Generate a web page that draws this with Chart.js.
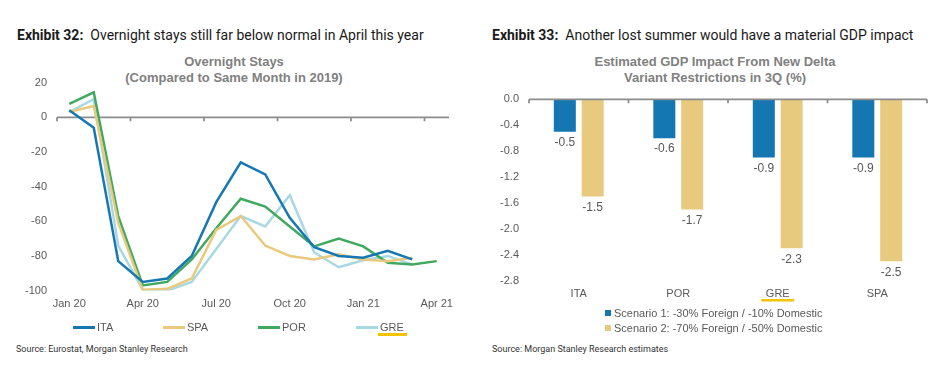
<!DOCTYPE html>
<html><head><meta charset="utf-8">
<script src="https://cdn.jsdelivr.net/npm/chart.js@4.4.0/dist/chart.umd.min.js"></script>
<style>
body{margin:0;width:950px;height:372px;background:#fff;position:relative;overflow:hidden;font-family:'Liberation Sans',Arial,sans-serif;}
.abs{position:absolute;white-space:nowrap;}
.head{font-family:Roboto,sans-serif;font-size:14px;color:#1a1a1a;top:26px;line-height:18px;}
.head b{font-weight:700;}
.ctitle{font-weight:bold;font-size:13px;color:#808080;text-align:center;line-height:16px;top:54px;width:300px;}
.src{font-family:Roboto,sans-serif;font-size:9px;color:#333;top:343px;line-height:12px;}
.leg{font-size:11px;color:#595959;line-height:12px;}
.cv{position:absolute;}
</style></head><body>
<div class="abs head" style="left:17px;"><b>Exhibit 32:</b>&nbsp; Overnight stays still far below normal in April this year</div>
<div class="abs head" style="left:492px;"><b>Exhibit 33:</b>&nbsp; Another lost summer would have a material GDP impact</div>
<div class="abs ctitle" style="left:84px;">Overnight Stays<br>(Compared to Same Month in 2019)</div>
<div class="abs ctitle" style="left:565px;">Estimated GDP Impact From New Delta<br>Variant Restrictions in 3Q (%)</div>
<canvas id="c1" class="cv" width="470" height="251" style="left:0px;top:66px;"></canvas>
<canvas id="c2" class="cv" width="475" height="250" style="left:475px;top:70px;"></canvas>
<div id="leg1"></div>
<div id="leg2"></div>
<div class="abs src" style="left:16px;">Source: Eurostat, Morgan Stanley Research</div>
<div class="abs src" style="left:492px;">Source: Morgan Stanley Research estimates</div>
<script>
// ---- data ----
const months = ['Jan 20','Feb 20','Mar 20','Apr 20','May 20','Jun 20','Jul 20','Aug 20','Sep 20','Oct 20','Nov 20','Dec 20','Jan 21','Feb 21','Mar 21','Apr 21'];
const monthTickLabels = ['Jan 20','Apr 20','Jul 20','Oct 20','Jan 21','Apr 21'];
const seriesNames = ['ITA','SPA','POR','GRE'];
const ita = [4, -6, -83, -95, -93, -80, -49, -26, -33, -58, -75, -80, -81, -77, -82, null];
const spa = [3, 6.5, -61, -99.5, -99, -93, -65, -57, -74, -80, -82, -79, -82, -83, -81, null];
const por = [7.7, 14.4, -57, -97, -95, -82, -64, -47, -51.5, -63, -74.5, -70, -74.5, -84, -85, -83];
const gre = [3, 10.5, -74, -99.5, -100, -95, -76, -57, -63, -45, -78, -86.5, -82.5, -80, -85, null];
const stayTicks = [20, 0, -20, -40, -60, -80, -100];

const countries = ['ITA','POR','GRE','SPA'];
const scenarioNames = ['Scenario 1: -30% Foreign / -10% Domestic','Scenario 2: -70% Foreign / -50% Domestic'];
const scenario1 = [-0.5, -0.6, -0.9, -0.9];
const scenario2 = [-1.5, -1.7, -2.3, -2.5];
const gdpTicks = [0, -0.4, -0.8, -1.2, -1.6, -2.0, -2.4, -2.8];

// ---- styles ----
const lineColors = ['#1677b2','#e9c97e','#41a95f','#a8d8e4'];
const barColors = ['#1577b1','#e8ca7f'];
const txt = '#595959';
Chart.defaults.font.family = "'Liberation Sans', Arial, sans-serif";
Chart.defaults.font.size = 11;
Chart.defaults.color = txt;

function zeroAxis(id, tickIdx, when){
  return { id, [when]: (chart) => {
    const {ctx, chartArea:a, scales:{x, y}} = chart;
    const y0 = y.getPixelForValue(0);
    const step = x.getPixelForValue(1) - x.getPixelForValue(0);
    ctx.save();
    ctx.strokeStyle = '#8c8c8c'; ctx.lineWidth = 1.75;
    ctx.beginPath();
    ctx.moveTo(a.left, y0); ctx.lineTo(a.right, y0);
    tickIdx.forEach(i => { const px = x.getPixelForValue(i) - step/2; ctx.moveTo(px, y0); ctx.lineTo(px, y0 + 4); });
    ctx.stroke(); ctx.restore();
  }};
}

const seriesData = [ita, spa, por, gre];
new Chart(document.getElementById('c1'), {
  type: 'line',
  data: { labels: months, datasets: seriesNames.map((n, k) => ({
    label: n, data: seriesData[k], borderColor: lineColors[k], borderWidth: 2.5,
    pointRadius: 0, tension: 0, fill: false, spanGaps: false })) },
  options: {
    responsive: false, animation: false, devicePixelRatio: 1,
    layout: { padding: { top: 0, bottom: 0.4, left: 0, right: 21 } },
    plugins: { legend: { display: false }, tooltip: { enabled: false } },
    scales: {
      x: { offset: true, grid: { display: false, drawTicks: false }, border: { display: false },
           afterFit: s => { s.height = 26; },
           ticks: { autoSkip: false, maxRotation: 0, padding: 7,
             callback: (v, i) => monthTickLabels.includes(months[i]) ? months[i] : '' } },
      y: { min: -100, max: 20, grid: { display: false, drawTicks: false }, border: { display: false },
           afterFit: s => { s.width = 57; },
           afterBuildTicks: s => { s.ticks = stayTicks.map(v => ({ value: v })); },
           ticks: { padding: 10 } }
    }
  },
  plugins: [zeroAxis('za1', [0, 3, 6, 9, 12, 15], 'beforeDatasetsDraw')]
});

const barLabels = { id: 'barLabels', afterDatasetsDraw: (chart) => {
  const ctx = chart.ctx;
  ctx.save(); ctx.fillStyle = txt; ctx.font = "12px 'Liberation Sans', Arial, sans-serif";
  ctx.textAlign = 'center'; ctx.textBaseline = 'middle';
  chart.data.datasets.forEach((ds, di) => {
    chart.getDatasetMeta(di).data.forEach((bar, i) => { ctx.fillText(ds.data[i].toFixed(1), bar.x, bar.y + 11); });
  });
  ctx.restore();
}};
const greUnderline = { id: 'greUnderline', afterDraw: (chart) => {
  const {ctx, chartArea:a, scales:{x}} = chart;
  const i = countries.indexOf('GRE');
  const px = x.getPixelForValue(i);
  ctx.save(); ctx.strokeStyle = '#f5c300'; ctx.lineWidth = 2.5;
  ctx.beginPath(); ctx.moveTo(px - 16.5, a.bottom + 19.5); ctx.lineTo(px + 16.5, a.bottom + 19.5); ctx.stroke();
  ctx.restore();
}};

const scenData = [scenario1, scenario2];
new Chart(document.getElementById('c2'), {
  type: 'bar',
  data: { labels: countries, datasets: scenarioNames.map((n, k) => ({
    label: n, data: scenData[k], backgroundColor: barColors[k], borderWidth: 0,
    barPercentage: 0.79, categoryPercentage: 0.56 })) },
  options: {
    responsive: false, animation: false, devicePixelRatio: 1,
    layout: { padding: { top: 29.3, bottom: 13.3, left: 0, right: 23 } },
    plugins: { legend: { display: false }, tooltip: { enabled: false } },
    scales: {
      x: { grid: { display: false, drawTicks: false }, border: { display: false },
           afterFit: s => { s.height = 26; }, ticks: { padding: 7 } },
      y: { min: -2.8, max: 0, grid: { display: false, drawTicks: false }, border: { display: false },
           afterFit: s => { s.width = 54; },
           afterBuildTicks: s => { s.ticks = gdpTicks.map(v => ({ value: v })); },
           ticks: { padding: 10, callback: v => (Math.round(v * 10) / 10).toFixed(1) } }
    }
  },
  plugins: [barLabels, zeroAxis('za2', [0, 1, 2, 3, 4], 'afterDatasetsDraw'), greUnderline]
});

// ---- HTML legends ----
const leg1Pos = [73, 163, 258, 356];
const leg1 = document.getElementById('leg1');
seriesNames.forEach((n, k) => {
  const l = document.createElement('div'); l.className = 'abs';
  l.style.cssText = `left:${leg1Pos[k]}px;top:326px;width:22px;height:3px;background:${lineColors[k]};`;
  leg1.appendChild(l);
  const t = document.createElement('div'); t.className = 'abs leg'; t.textContent = n;
  t.style.cssText = `left:${leg1Pos[k] + 24}px;top:321px;`;
  leg1.appendChild(t);
});
const ul = document.createElement('div'); ul.className = 'abs';
ul.style.cssText = 'left:378px;top:333px;width:29px;height:2.5px;background:#f5c300;';
leg1.appendChild(ul);

const leg2 = document.getElementById('leg2');
scenarioNames.forEach((n, k) => {
  const s = document.createElement('div'); s.className = 'abs';
  s.style.cssText = `left:605px;top:${309.5 + k * 15}px;width:6px;height:6px;background:${barColors[k]};`;
  leg2.appendChild(s);
  const t = document.createElement('div'); t.className = 'abs leg'; t.textContent = n;
  t.style.cssText = `left:614px;top:${306.5 + k * 15}px;`;
  leg2.appendChild(t);
});
</script>
</body></html>
